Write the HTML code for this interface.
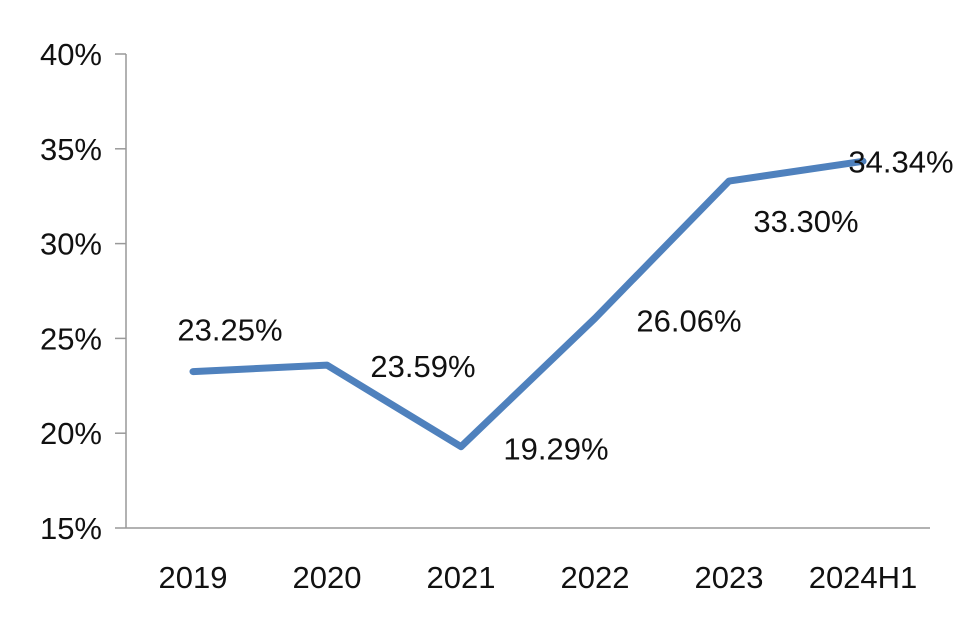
<!DOCTYPE html>
<html><head><meta charset="utf-8"><style>
body{margin:0;background:#fff;}
svg text{font-family:"Liberation Sans",sans-serif;fill:#111;}
</style></head><body>
<svg width="980" height="634" viewBox="0 0 980 634">
<g id="axes"></g><g id="series"></g><g id="labels"></g>
</svg>
<script>
const categories=["2019","2020","2021","2022","2023","2024H1"];
const values=[23.25,23.59,19.29,26.06,33.30,34.34];
const valueLabels=["23.25%","23.59%","19.29%","26.06%","33.30%","34.34%"];
const yTicks=[15,20,25,30,35,40];
const yTickLabels=["15%","20%","25%","30%","35%","40%"];
const labelDx=[37,96,95,94,77,38];
const labelDy=[-42,1,2,2,40,0];

const NS="http://www.w3.org/2000/svg";
const x0=126,x1=930,yTop=54,yBot=528,yMin=15,yMax=40;
const step=(x1-x0)/categories.length;
const xs=i=>x0+step*(i+0.5);
const ys=v=>yBot-(v-yMin)/(yMax-yMin)*(yBot-yTop);
function mk(tag,attrs,parent){const e=document.createElementNS(NS,tag);for(const k in attrs)e.setAttribute(k,attrs[k]);parent.appendChild(e);return e;}
const axes=document.getElementById('axes'),series=document.getElementById('series'),labels=document.getElementById('labels');
let e=mk('line',{x1:x0,y1:yTop,x2:x0,y2:yBot,stroke:'#999','stroke-width':1.5},axes);


e=mk('line',{x1:x0,y1:yBot,x2:x1,y2:yBot,stroke:'#999','stroke-width':1.5},axes);


yTicks.forEach((t,i)=>{
  const y=ys(t);
  let tk=mk('line',{x1:x0-11,y1:y,x2:x0,y2:y,stroke:'#999','stroke-width':1.5},axes);
  
  
  let tx=mk('text',{x:102,y:y+11,'text-anchor':'end','font-size':31},axes);
  tx.textContent=yTickLabels[i];
  
  
});
categories.forEach((c,i)=>{
  let tx=mk('text',{x:xs(i),y:588,'text-anchor':'middle','font-size':31},axes);
  tx.textContent=c;
  
  
});
const pts=values.map((v,i)=>xs(i)+','+ys(v)).join(' ');
let pl=mk('polyline',{points:pts,fill:'none',stroke:'#4f81bd','stroke-width':7,'stroke-linejoin':'round','stroke-linecap':'round'},series);


values.forEach((v,i)=>{
  let tx=mk('text',{x:xs(i)+labelDx[i],y:ys(v)+labelDy[i]+11,'text-anchor':'middle','font-size':31},labels);
  tx.textContent=valueLabels[i];
  
  
});
</script>
</body></html>
